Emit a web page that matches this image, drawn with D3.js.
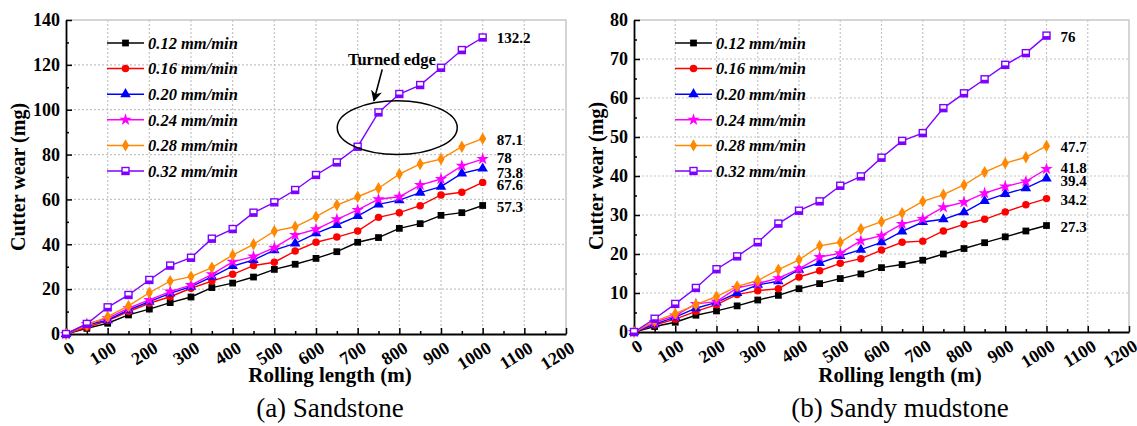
<!DOCTYPE html>
<html>
<head>
<meta charset="utf-8">
<script src="https://cdn.jsdelivr.net/npm/d3@7"></script>
<style>
    body { margin: 0; background: #fff; }
</style>
</head>
<body>
<svg id="chart" width="1137" height="426"></svg>
<script>
var FONT = '"Liberation Serif", "Times New Roman", serif';

// rolling length (m)
var lengths = [0, 50, 100, 150, 200, 250, 300, 350, 400, 450, 500, 550, 600, 650, 700, 750, 800, 850, 900, 950, 1000];

var seriesNames = ["0.12 mm/min", "0.16 mm/min", "0.20 mm/min", "0.24 mm/min", "0.28 mm/min", "0.32 mm/min"];
var seriesColors = ["#000000", "#ff0000", "#0000ff", "#ff00ff", "#ff8800", "#8000ff"];
var seriesSymbols = ["square", "circle", "triangle", "star", "diamond", "openSquare"];

// (a) Sandstone - cutter wear (mg)
var sand012 = [0, 2.5, 4.8, 8.5, 11.1, 14.0, 16.5, 20.7, 22.7, 25.4, 28.8, 31.1, 33.7, 36.7, 40.9, 43.0, 47.1, 49.2, 52.9, 54.1, 57.3];
var sand016 = [0, 3.0, 6.0, 10.0, 13.7, 16.6, 20.4, 23.6, 26.6, 30.5, 32.0, 37.0, 40.9, 43.2, 45.9, 52.0, 54.1, 57.2, 62.0, 63.2, 67.6];
var sand020 = [0, 4.0, 6.2, 10.7, 14.4, 18.1, 21.1, 25.5, 30.3, 33.0, 37.4, 40.4, 44.9, 48.6, 52.6, 57.8, 59.7, 63.0, 65.7, 71.6, 73.8];
var sand024 = [0, 4.5, 7.0, 11.5, 15.2, 18.9, 21.8, 26.6, 32.2, 34.5, 38.5, 44.1, 46.7, 51.1, 55.3, 60.1, 61.2, 66.4, 69.1, 75.0, 78.0];
var sand028 = [0, 4.0, 7.7, 12.5, 18.4, 23.6, 25.6, 29.6, 35.2, 40.0, 45.9, 47.8, 52.3, 57.5, 61.2, 65.0, 71.3, 75.8, 78.0, 83.5, 87.1];
var sand032 = [0, 4.5, 11.9, 17.4, 24.1, 30.5, 34.0, 42.5, 46.8, 54.1, 58.7, 64.2, 70.9, 76.5, 83.5, 98.8, 107.0, 111.0, 118.7, 126.6, 132.2];
var sandEndLabels = ["57.3", "67.6", "73.8", "78", "87.1", "132.2"];

// (b) Sandy mudstone - cutter wear (mg)
var mud012 = [0, 1.4, 2.5, 4.3, 5.4, 6.7, 8.2, 9.4, 11.1, 12.4, 13.7, 14.9, 16.5, 17.3, 18.4, 20.0, 21.4, 22.9, 24.4, 25.9, 27.3];
var mud016 = [0, 1.8, 3.3, 5.3, 7.0, 9.6, 10.6, 11.1, 14.1, 15.7, 17.6, 18.8, 21.0, 23.0, 23.3, 25.9, 27.6, 28.9, 30.8, 32.6, 34.2];
var mud020 = [0, 2.0, 3.8, 6.1, 7.6, 10.0, 12.1, 13.0, 16.0, 17.7, 19.5, 21.1, 23.0, 25.8, 28.2, 28.9, 30.7, 33.6, 35.4, 36.9, 39.4];
var mud024 = [0, 2.5, 4.2, 7.2, 7.8, 11.3, 12.4, 13.8, 16.2, 19.2, 20.2, 23.4, 24.7, 27.7, 29.0, 32.0, 33.3, 35.6, 37.3, 38.6, 41.8];
var mud028 = [0, 2.8, 4.7, 7.0, 9.1, 11.7, 13.2, 16.0, 18.5, 22.1, 23.0, 26.4, 28.3, 30.5, 33.5, 35.2, 37.7, 41.0, 43.3, 44.8, 47.7];
var mud032 = [0, 3.4, 7.2, 11.3, 16.1, 19.4, 23.0, 27.8, 31.1, 33.5, 37.5, 39.9, 44.7, 49.0, 51.0, 57.4, 61.2, 64.8, 68.5, 71.5, 76.0];
var mudEndLabels = ["27.3", "34.2", "39.4", "41.8", "47.7", "76"];

var xTicks = d3.range(0, 1201, 100);

var svg = d3.select("#chart");

drawPanel({
    left: 66, right: 566, top: 20, bottom: 334,
    ymax: 140, ystep: 20,
    series: [sand012, sand016, sand020, sand024, sand028, sand032],
    endLabels: sandEndLabels,
    labelNudge: [1.5, 2.5, 4.5, -1.5, 1.5, 0],
    caption: "(a) Sandstone",
    titleX: 330, yTitleGap: 41,
    annotate: true
});

drawPanel({
    left: 634, right: 1129, top: 20, bottom: 332,
    ymax: 80, ystep: 10,
    series: [mud012, mud016, mud020, mud024, mud028, mud032],
    endLabels: mudEndLabels,
    labelNudge: [1, 1, 2.5, -1, 1, 1.5],
    caption: "(b) Sandy mudstone",
    titleX: 900, yTitleGap: 31,
    annotate: false
});

function drawPanel(cfg) {
    var g = svg.append("g");

    var x = d3.scaleLinear().domain([0, 1200]).range([cfg.left, cfg.right]);
    var y = d3.scaleLinear().domain([0, cfg.ymax]).range([cfg.bottom, cfg.top]);
    var yTicks = d3.range(0, cfg.ymax + 0.001, cfg.ystep);
    var yMinor = d3.range(cfg.ystep / 2, cfg.ymax, cfg.ystep);
    var xMinor = d3.range(50, 1200, 100);

    // dotted grid
    g.append("g").selectAll("line").data(xTicks.slice(1, -1)).join("line")
        .attr("x1", d => x(d)).attr("x2", d => x(d))
        .attr("y1", cfg.top).attr("y2", cfg.bottom)
        .attr("stroke", "#c4c4c4").attr("stroke-width", 1.2)
        .attr("stroke-dasharray", "2,2");
    g.append("g").selectAll("line").data(yTicks.slice(1, -1)).join("line")
        .attr("x1", cfg.left).attr("x2", cfg.right)
        .attr("y1", d => y(d)).attr("y2", d => y(d))
        .attr("stroke", "#c4c4c4").attr("stroke-width", 1.2)
        .attr("stroke-dasharray", "2,2");

    // top / right frame
    g.append("path")
        .attr("d", "M" + cfg.left + "," + cfg.top + "H" + cfg.right + "V" + cfg.bottom)
        .attr("fill", "none").attr("stroke", "#c8c8c8").attr("stroke-width", 1.5);

    // x axis
    var gx = g.append("g")
        .attr("transform", "translate(0," + cfg.bottom + ")")
        .call(d3.axisBottom(x).tickValues(xTicks).tickSizeInner(-6).tickSizeOuter(0).tickFormat(d3.format("d")));
    gx.selectAll("text")
        .attr("y", 0).attr("dy", "0.35em")
        .attr("transform", "translate(6,12) rotate(-32)")
        .style("text-anchor", "end")
        .style("font-family", FONT)
        .style("font-size", "18px").style("font-weight", "bold")
        .attr("fill", "#000");
    g.append("g")
        .attr("transform", "translate(0," + cfg.bottom + ")")
        .call(d3.axisBottom(x).tickValues(xMinor).tickSizeInner(-3).tickSizeOuter(0).tickFormat(""))
        .select(".domain").remove();

    // y axis
    var gy = g.append("g")
        .attr("transform", "translate(" + cfg.left + ",0)")
        .call(d3.axisLeft(y).tickValues(yTicks).tickSizeInner(-6).tickSizeOuter(0).tickPadding(6));
    gy.selectAll("text")
        .style("font-family", FONT)
        .style("font-size", "18px").style("font-weight", "bold")
        .attr("fill", "#000");
    g.append("g")
        .attr("transform", "translate(" + cfg.left + ",0)")
        .call(d3.axisLeft(y).tickValues(yMinor).tickSizeInner(-3).tickSizeOuter(0).tickFormat(""))
        .select(".domain").remove();

    g.selectAll(".domain").attr("stroke", "#000").attr("stroke-width", 1.8);
    g.selectAll(".tick line").attr("stroke", "#000").attr("stroke-width", 1.5);

    // axis titles
    g.append("text")
        .attr("x", cfg.titleX).attr("y", 382)
        .attr("text-anchor", "middle")
        .style("font-family", FONT)
        .style("font-size", "21px").style("font-weight", "bold")
        .text("Rolling length (m)");
    g.append("text")
        .attr("transform", "translate(" + (cfg.left - cfg.yTitleGap) + "," + ((cfg.top + cfg.bottom) / 2) + ") rotate(-90)")
        .attr("text-anchor", "middle")
        .style("font-family", FONT)
        .style("font-size", "20px").style("font-weight", "bold")
        .text("Cutter wear (mg)");

    // caption
    g.append("text")
        .attr("x", cfg.titleX).attr("y", 417)
        .attr("text-anchor", "middle")
        .style("font-family", FONT)
        .style("font-size", "27px")
        .text(cfg.caption);

    // series lines and markers
    var line = d3.line()
        .x((d, i) => x(lengths[i]))
        .y(d => y(d));

    cfg.series.forEach(function(values, k) {
        g.append("path")
            .datum(values)
            .attr("d", line)
            .attr("fill", "none")
            .attr("stroke", seriesColors[k])
            .attr("stroke-width", 1.4);

        g.append("g").selectAll("g").data(values).join("g")
            .attr("transform", (d, i) => "translate(" + x(lengths[i]) + "," + y(d) + ")")
            .each(function() { drawMarker(d3.select(this), k); });

        g.append("text")
            .attr("x", x(1000) + 14)
            .attr("y", y(values[values.length - 1]) + cfg.labelNudge[k])
            .attr("dy", "0.35em")
            .style("font-family", FONT)
            .style("font-size", "15px").style("font-weight", "bold")
            .text(cfg.endLabels[k]);
    });

    // legend
    var legend = g.append("g")
        .attr("transform", "translate(" + (cfg.left + 41) + "," + (cfg.top + 23) + ")");
    seriesNames.forEach(function(name, k) {
        var row = legend.append("g").attr("transform", "translate(0," + (k * 25.6) + ")");
        row.append("line")
            .attr("x1", 0).attr("x2", 37)
            .attr("stroke", seriesColors[k]).attr("stroke-width", 1.5);
        drawMarker(row.append("g").attr("transform", "translate(18.5,0)"), k);
        row.append("text")
            .attr("x", 41).attr("dy", "0.35em")
            .style("font-family", FONT)
            .style("font-size", "16.5px").style("font-weight", "bold").style("font-style", "italic")
            .text(name);
    });

    // "Turned edge" annotation
    if (cfg.annotate) {
        g.append("ellipse")
            .attr("cx", x(795)).attr("cy", y(92))
            .attr("rx", x(144) - x(0)).attr("ry", y(0) - y(12))
            .attr("fill", "none").attr("stroke", "#000").attr("stroke-width", 1.5);
        svg.append("defs").append("marker")
            .attr("id", "arrowHead")
            .attr("viewBox", "0 0 10 10")
            .attr("refX", 9).attr("refY", 5)
            .attr("markerWidth", 7).attr("markerHeight", 7)
            .attr("orient", "auto")
            .append("path")
            .attr("d", "M0,0 L10,5 L0,10 L3,5 Z")
            .attr("fill", "#000");
        g.append("line")
            .attr("x1", x(759)).attr("y1", y(118))
            .attr("x2", x(739)).attr("y2", y(104))
            .attr("stroke", "#000").attr("stroke-width", 1.6)
            .attr("marker-end", "url(#arrowHead)");
        g.append("text")
            .attr("x", x(782)).attr("y", y(120))
            .attr("text-anchor", "middle")
            .style("font-family", FONT)
            .style("font-size", "16.5px").style("font-weight", "bold")
            .text("Turned edge");
    }
}

function drawMarker(sel, k) {
    var type = seriesSymbols[k];
    var color = seriesColors[k];
    if (type === "openSquare") {
        sel.append("rect")
            .attr("x", -3.5).attr("y", -3.5).attr("width", 7).attr("height", 7)
            .attr("fill", "#fff").attr("stroke", color).attr("stroke-width", 1.4);
        sel.append("rect")
            .attr("x", -3.5).attr("y", 0.5).attr("width", 7).attr("height", 3)
            .attr("fill", color);
        return;
    }
    var symbolType = {
        square: d3.symbolSquare,
        circle: d3.symbolCircle,
        triangle: d3.symbolTriangle,
        star: d3.symbolStar,
        diamond: d3.symbolDiamond
    }[type];
    var size = { square: 46, circle: 44, triangle: 48, star: 48, diamond: 44 }[type];
    sel.append("path")
        .attr("d", d3.symbol().type(symbolType).size(size))
        .attr("fill", color);
}
</script>
</body>
</html>
